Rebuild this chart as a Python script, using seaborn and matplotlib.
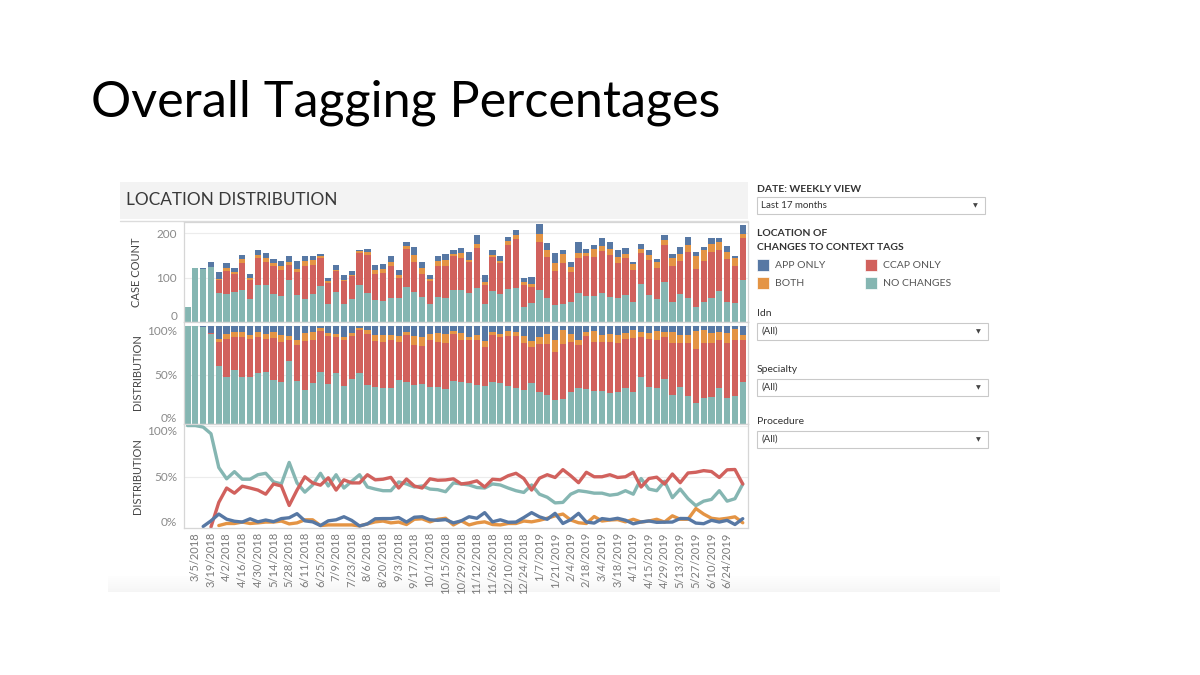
import numpy as np
import pandas as pd
import matplotlib
matplotlib.use("Agg")
import matplotlib.pyplot as plt
import seaborn as sns
from matplotlib.patches import Rectangle

# ---------------- data ----------------
week_dates = pd.date_range("2018-02-26", periods=72, freq="7D")
tick_labels = ["3/5/2018", "3/19/2018", "4/2/2018", "4/16/2018", "4/30/2018", "5/14/2018",
               "5/28/2018", "6/11/2018", "6/25/2018", "7/9/2018", "7/23/2018", "8/6/2018",
               "8/20/2018", "9/3/2018", "9/17/2018", "10/1/2018", "10/15/2018", "10/29/2018",
               "11/12/2018", "11/26/2018", "12/10/2018", "12/24/2018", "1/7/2019", "1/21/2019",
               "2/4/2019", "2/18/2019", "3/4/2019", "3/18/2019", "4/1/2019", "4/15/2019",
               "4/29/2019", "5/13/2019", "5/27/2019", "6/10/2019", "6/24/2019"]

total_cases = [34, 122, 121, 134, 112, 132, 121, 150, 108, 161,
               156, 142, 138, 149, 138, 148, 148, 152, 98, 128,
               106, 115, 162, 165, 128, 131, 148, 118, 181, 168,
               136, 106, 149, 153, 162, 167, 158, 195, 106, 161,
               149, 192, 208, 100, 101, 221, 177, 155, 161, 135,
               180, 165, 173, 189, 179, 162, 166, 135, 175, 162,
               142, 195, 152, 168, 192, 157, 168, 190, 190, 171,
               148, 219]

share_no_changes = [100, 100, 98.5, 92, 59, 48, 55, 47.6, 47.6, 52,
                    53.4, 45, 43, 64, 44, 35, 42, 53.4, 41, 52,
                    39, 45.6, 52, 40, 38, 36.4, 36.4, 45, 43, 40,
                    41, 38, 37.4, 35.4, 44, 43, 42, 39.5, 39, 43,
                    42, 39, 36.4, 34.7, 42, 33, 30, 24.5, 25, 33,
                    36.4, 35.4, 34, 34, 32, 33, 36.4, 33, 48.3, 38,
                    36.4, 45.6, 29.6, 38, 28.6, 21.8, 26.2, 27.9, 36.4, 26.2,
                    28.6, 42.9]
share_ccap_only = [0, 0, 0, 1, 25, 39, 34, 40.8, 39, 37,
                   33, 43, 41, 22, 37, 50, 44, 41.8, 49, 37,
                   47, 44, 44, 52, 47, 47.6, 49.4, 39, 47.8, 41,
                   39, 48, 46.6, 46.9, 48, 43, 44, 46, 40, 47.6,
                   47, 51, 53.4, 48.3, 37, 48.6, 52, 49.3, 57, 51,
                   44.2, 54.4, 50, 50, 52, 49.3, 50, 54.4, 40, 48.3,
                   49.6, 42.9, 52.7, 44.2, 53.7, 54.4, 56, 55.1, 49.3, 56.8,
                   57.1, 42.9]
share_both = [0, 0, 0, 0, 2.4, 4.4, 4.4, 5.8, 4.4, 5,
              5.8, 5.8, 6.8, 4, 5, 8, 8, 2.4, 3, 3,
              3, 3, 2, 4, 6, 6.8, 5, 5.8, 3.4, 8.5,
              9, 6, 8.5, 9.5, 3, 7, 3, 5, 6, 3.4,
              3, 4.4, 4.4, 6.8, 6, 7.5, 9.5, 11.9, 13.6, 7.8,
              5.1, 4.4, 11.2, 6.8, 7.8, 8.2, 6, 8.5, 5.8, 6.8,
              8.5, 5.8, 11.9, 8.5, 8.5, 19, 13.6, 9.5, 8.5, 9.5,
              10.9, 5.1]
share_app_only = [0, 0, 1.5, 7, 13.6, 8.6, 6.6, 5.8, 9, 6,
                  7.8, 6.2, 9.2, 10, 14, 7, 6, 2.4, 7, 8,
                  11, 7.4, 2, 4, 9, 9.2, 9.2, 10.2, 5.8, 10.5,
                  11, 8, 7.5, 8.2, 5, 7, 11, 9.5, 15, 6,
                  8, 5.6, 5.8, 10.2, 15, 10.9, 8.5, 14.3, 4.4, 8.2,
                  14.3, 5.8, 4.8, 9.2, 8.2, 9.5, 7.6, 4.1, 5.9, 6.9,
                  5.5, 5.7, 5.8, 9.3, 9.2, 4.8, 4.2, 7.5, 5.8, 7.5,
                  3.4, 9.1]

categories = ["APP ONLY", "BOTH", "CCAP ONLY", "NO CHANGES"]
palette = {"APP ONLY": "#5778a4", "BOTH": "#e49444",
           "CCAP ONLY": "#d1615d", "NO CHANGES": "#85b6b2"}

# ---------------- tidy table ----------------
shares = np.array([share_app_only, share_both, share_ccap_only, share_no_changes], dtype=float)
shares = shares / shares.sum(axis=0)
counts = shares * np.array(total_cases, dtype=float)
rows = []
for ci, cat in enumerate(categories):
    for w in range(len(total_cases)):
        s = shares[ci, w]
        rows.append({"week": w, "date": week_dates[w], "cat": cat,
                     "count": counts[ci, w], "share": s if s > 0 else np.nan})
df = pd.DataFrame(rows)

# ---------------- figure ----------------
sns.set_theme(style="white")
plt.rcParams["font.family"] = ["Lato", "DejaVu Sans"]
fig = plt.figure(figsize=(12, 6.75), dpi=100)
W, H = 1200, 675

def frac_rect(x0, y0, x1, y1):
    return [x0 / W, 1 - y1 / H, (x1 - x0) / W, (y1 - y0) / H]

# overlay for decorations
ov = fig.add_axes([0, 0, 1, 1], zorder=-1)
ov.set_xlim(0, W)
ov.set_ylim(H, 0)
ov.axis("off")

ov.text(91, 103, "Overall Tagging Percentages", fontsize=36.2, color="#000000",
        va="center", ha="left")
ov.add_patch(Rectangle((120, 182), 628, 37, fc="#f3f3f3", ec="none"))
ov.text(126, 200, "LOCATION DISTRIBUTION", fontsize=12.4, color="#3a3a3a", va="center", ha="left")
ov.plot([120, 748], [220.5, 220.5], color="#dcdcdc", lw=1)
# bottom soft shadow
for k in range(16):
    ov.add_patch(Rectangle((108, 576 + k), 892, 1, fc=(0.93, 0.93, 0.93, 0.06 + 0.03 * k), ec="none"))

XL = (-0.45, 71.67)
ax1 = fig.add_axes(frac_rect(184, 222, 748, 322))
ax2 = fig.add_axes(frac_rect(184, 322, 748, 424))
ax3 = fig.add_axes(frac_rect(184, 424, 748, 528))

sns.histplot(data=df, x="week", weights="count", hue="cat", hue_order=categories,
             multiple="stack", discrete=True, shrink=0.8, palette=palette,
             alpha=1, linewidth=0, legend=False, ax=ax1)
sns.histplot(data=df, x="week", weights="count", hue="cat", hue_order=categories,
             multiple="fill", discrete=True, shrink=0.8, palette=palette,
             alpha=1, linewidth=0, legend=False, ax=ax2)
sns.lineplot(data=df, x="week", y="share", hue="cat",
             hue_order=["NO CHANGES", "CCAP ONLY", "BOTH", "APP ONLY"],
             palette=palette, estimator=None, errorbar=None, linewidth=2.4,
             legend=False, ax=ax3)

ax1.set_ylim(0, 225)
ax1.set_yticks([0, 100, 200])
ax1.set_yticklabels(["0", "100", "200"])
ax2.set_ylim(0, 1.04)
ax2.set_yticks([0, 0.5, 1.0])
ax2.set_yticklabels(["0%", "50%", "100%"])
ax3.set_ylim(0, 1.015)
ax3.set_yticks([0, 0.5, 1.0])
ax3.set_yticklabels(["0%", "50%", "100%"])

for ax in (ax1, ax2, ax3):
    ax.set_xlim(*XL)
    ax.set_xlabel("")
    ax.set_ylabel("")
    ax.set_facecolor("white")
    ax.grid(axis="y", color="#ececec", lw=0.8)
    ax.set_axisbelow(True)
    ax.tick_params(axis="y", length=0, pad=5, labelsize=8.5, labelcolor="#8a8a8a")
    for side in ("top", "bottom", "left", "right"):
        ax.spines[side].set_visible(True)
        ax.spines[side].set_color("#d6d6d6")
        ax.spines[side].set_linewidth(0.9)

# keep edge tick labels inside their pane, as the dashboard does
ax1.get_yticklabels()[0].set_va("bottom")
for ax in (ax2, ax3):
    labs = ax.get_yticklabels()
    labs[0].set_va("bottom")
    labs[-1].set_va("top")

for ax in (ax1, ax2):
    ax.set_xticks([])

ax3.set_xticks(list(range(1, 71, 2)))
ax3.set_xticklabels(tick_labels, rotation=90, fontsize=8, color="#7a7a7a")
ax3.tick_params(axis="x", length=0, pad=3)

ov.text(137, 272, "CASE COUNT", rotation=90, fontsize=8, color="#444444", va="center", ha="center")
ov.text(137, 372, "DISTRIBUTION", rotation=90, fontsize=8, color="#444444", va="center", ha="center")
ov.text(137, 476, "DISTRIBUTION", rotation=90, fontsize=8, color="#444444", va="center", ha="center")

# ---------------- right panel ----------------
def dropdown(y, label, value, width):
    ov.text(757, y, label, fontsize=7.5, color="#333333", va="center", ha="left")
    ov.add_patch(Rectangle((757, y + 10), width, 17, fc="white", ec="#c9c9c9", lw=0.8))
    ov.text(761, y + 18.5, value, fontsize=7, color="#333333", va="center", ha="left")
    ov.text(757 + width - 10, y + 18.5, "\u25BC", fontsize=4.5, color="#444444",
            va="center", ha="center", family=["DejaVu Sans"])

ov.text(757, 189, "DATE: WEEKLY VIEW", fontsize=7.5, color="#333333", fontweight="bold",
        va="center", ha="left")
ov.add_patch(Rectangle((757, 197), 228, 17, fc="white", ec="#c9c9c9", lw=0.8))
ov.text(761, 206, "Last 17 months", fontsize=7, color="#333333", va="center", ha="left")
ov.text(975, 205.5, "\u25BC", fontsize=4.5, color="#444444", va="center", ha="center",
        family=["DejaVu Sans"])

ov.text(757, 234, "LOCATION OF", fontsize=7.5, color="#333333", fontweight="bold",
        va="center", ha="left")
ov.text(757, 248, "CHANGES TO CONTEXT TAGS", fontsize=7.5, color="#333333", fontweight="bold",
        va="center", ha="left")
legend_pos = {"APP ONLY": (757, 259), "CCAP ONLY": (865, 259),
              "BOTH": (757, 277), "NO CHANGES": (865, 277)}
for cat, (lx, ly) in legend_pos.items():
    ov.add_patch(Rectangle((lx, ly), 12, 12, fc=palette[cat], ec="white", lw=0.5))
    ov.text(lx + 18, ly + 6.5, cat, fontsize=7.5, color="#555555", va="center", ha="left")

dropdown(313, "Idn", "(All)", 231)
dropdown(369, "Specialty", "(All)", 231)
dropdown(421, "Procedure", "(All)", 231)

fig.savefig("out.png", dpi=100, facecolor="white")
